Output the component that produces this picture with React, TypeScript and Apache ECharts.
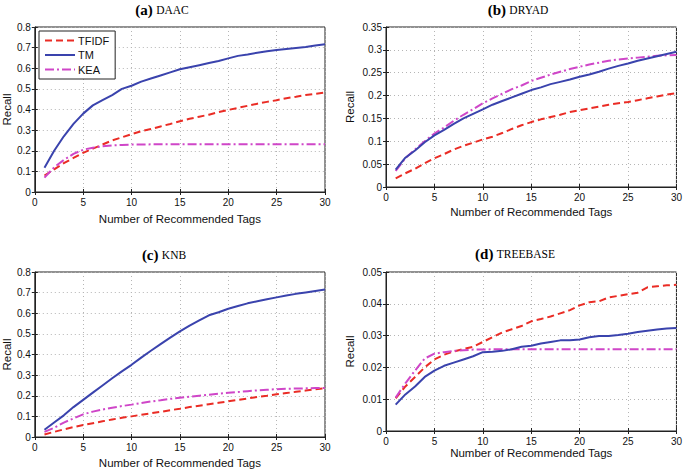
import React, { useEffect, useRef } from "react";
import * as echarts from "echarts";

const tags = [1, 2, 3, 4, 5, 6, 7, 8, 9, 10, 11, 12, 13, 14, 15, 16, 17, 18, 19, 20, 21, 22, 23, 24, 25, 26, 27, 28, 29, 30];
const seriesNames = ["TFIDF", "TM", "KEA"];
const panelTitles = [
  { tag: "(a)", name: "DAAC" },
  { tag: "(b)", name: "DRYAD" },
  { tag: "(c)", name: "KNB" },
  { tag: "(d)", name: "TREEBASE" },
];

// (a) DAAC
const tfidfDAAC = [0.08, 0.11, 0.14, 0.165, 0.19, 0.21, 0.23, 0.25, 0.265, 0.28, 0.295, 0.305, 0.318, 0.33, 0.343, 0.355, 0.365, 0.375, 0.387, 0.398, 0.408, 0.418, 0.428, 0.437, 0.445, 0.455, 0.462, 0.47, 0.476, 0.482];
const tmDAAC = [0.118, 0.2, 0.27, 0.33, 0.38, 0.42, 0.445, 0.47, 0.5, 0.515, 0.535, 0.55, 0.565, 0.58, 0.595, 0.605, 0.615, 0.625, 0.635, 0.648, 0.66, 0.667, 0.675, 0.682, 0.688, 0.693, 0.698, 0.703, 0.71, 0.716];
const keaDAAC = [0.07, 0.12, 0.155, 0.185, 0.205, 0.215, 0.222, 0.226, 0.228, 0.23, 0.23, 0.231, 0.231, 0.231, 0.232, 0.232, 0.232, 0.232, 0.232, 0.232, 0.232, 0.232, 0.232, 0.232, 0.232, 0.232, 0.232, 0.232, 0.232, 0.232];

// (b) DRYAD
const tfidfDRYAD = [0.019, 0.03, 0.04, 0.052, 0.063, 0.072, 0.082, 0.09, 0.097, 0.104, 0.11, 0.118, 0.127, 0.135, 0.142, 0.148, 0.153, 0.158, 0.164, 0.168, 0.172, 0.176, 0.18, 0.183, 0.186, 0.19, 0.194, 0.198, 0.202, 0.205];
const tmDRYAD = [0.038, 0.064, 0.08, 0.098, 0.113, 0.125, 0.138, 0.15, 0.16, 0.17, 0.18, 0.188, 0.196, 0.204, 0.212, 0.218, 0.225, 0.23, 0.235, 0.241, 0.246, 0.252, 0.259, 0.265, 0.27, 0.276, 0.281, 0.286, 0.291, 0.296];
const keaDRYAD = [0.035, 0.063, 0.082, 0.1, 0.117, 0.13, 0.145, 0.158, 0.17, 0.183, 0.194, 0.204, 0.214, 0.222, 0.232, 0.239, 0.246, 0.252, 0.258, 0.263, 0.268, 0.272, 0.276, 0.279, 0.281, 0.283, 0.285, 0.287, 0.288, 0.289];

// (c) KNB
const tfidfKNB = [0.012, 0.025, 0.037, 0.048, 0.058, 0.067, 0.076, 0.085, 0.093, 0.1, 0.108, 0.115, 0.122, 0.13, 0.137, 0.145, 0.152, 0.159, 0.166, 0.173, 0.18, 0.187, 0.194, 0.2, 0.207, 0.213, 0.219, 0.225, 0.231, 0.237];
const tmKNB = [0.035, 0.07, 0.105, 0.145, 0.18, 0.215, 0.25, 0.285, 0.318, 0.35, 0.385, 0.418, 0.45, 0.482, 0.512, 0.54, 0.565, 0.59, 0.605, 0.622, 0.635, 0.648, 0.658, 0.668, 0.677, 0.686, 0.694, 0.701, 0.708, 0.715];
const keaKNB = [0.025, 0.045, 0.07, 0.09, 0.11, 0.123, 0.133, 0.142, 0.15, 0.157, 0.165, 0.172, 0.178, 0.185, 0.19, 0.195, 0.2, 0.205, 0.21, 0.214, 0.218, 0.222, 0.226, 0.229, 0.232, 0.234, 0.235, 0.236, 0.237, 0.238];

// (d) TREEBASE
const tfidfTREEBASE = [0.0103, 0.014, 0.017, 0.02, 0.0225, 0.024, 0.025, 0.0258, 0.0265, 0.028, 0.0295, 0.031, 0.032, 0.033, 0.0345, 0.0352, 0.036, 0.037, 0.038, 0.0395, 0.0405, 0.0408, 0.042, 0.0425, 0.043, 0.0435, 0.0452, 0.0455, 0.0458, 0.046];
const tmTREEBASE = [0.0083, 0.0115, 0.014, 0.017, 0.019, 0.0205, 0.0215, 0.0225, 0.0235, 0.0248, 0.0249, 0.0252, 0.0257, 0.0265, 0.0268, 0.0275, 0.028, 0.0285, 0.0285, 0.0288, 0.0295, 0.0299, 0.0299, 0.0302, 0.0306, 0.0311, 0.0315, 0.0319, 0.0322, 0.0324];
const keaTREEBASE = [0.0105, 0.015, 0.019, 0.0228, 0.0243, 0.0248, 0.0252, 0.0254, 0.0256, 0.0256, 0.0257, 0.0257, 0.0257, 0.0257, 0.0257, 0.0257, 0.0257, 0.0257, 0.0257, 0.0257, 0.0257, 0.0257, 0.0257, 0.0257, 0.0257, 0.0257, 0.0257, 0.0257, 0.0257, 0.0257];

const yMaxes = [0.8, 0.35, 0.8, 0.05];
const yIntervals = [0.1, 0.05, 0.1, 0.01];
const panelData = [
  [tfidfDAAC, tmDAAC, keaDAAC],
  [tfidfDRYAD, tmDRYAD, keaDRYAD],
  [tfidfKNB, tmKNB, keaKNB],
  [tfidfTREEBASE, tmTREEBASE, keaTREEBASE],
];

const colors = ["#ea2c25", "#3a43ad", "#cf46c8"];
const dashes: any[] = [[7, 4], "solid", [9, 3, 2, 3]];

const layout = [
  { left: 32, top: 27, width: 293, height: 165, xGap: 21, yGap: 20, tx: 162, ty: 10 },
  { left: 386, top: 27, width: 292, height: 160, xGap: 19, yGap: 30, tx: 518, ty: 10 },
  { left: 32, top: 272, width: 293, height: 165, xGap: 20, yGap: 20, tx: 164, ty: 255 },
  { left: 386, top: 272, width: 292, height: 159, xGap: 15, yGap: 30, tx: 515, ty: 254 },
];

const sans = "Liberation Sans, Arial, sans-serif";
const serif = "Liberation Serif, Times New Roman, serif";

export default function App() {
  const ref = useRef<HTMLDivElement>(null);
  useEffect(() => {
    if (!ref.current) return;
    const chart = echarts.init(ref.current, undefined, { renderer: "svg" });
    const grid = layout.map((l) => ({
      left: l.left, top: l.top, width: l.width, height: l.height,
      show: true, borderColor: "#222", borderWidth: 1, backgroundColor: "#fff",
    }));
    const xAxis: any[] = [];
    const yAxis: any[] = [];
    layout.forEach((l, i) => {
      xAxis.push({
        type: "value", gridIndex: i, min: 0, max: 30, interval: 5,
        name: "Number of Recommended Tags", nameLocation: "middle", nameGap: l.xGap,
        nameTextStyle: { fontFamily: sans, fontSize: 11.5, color: "#111" },
        axisLine: { show: true, lineStyle: { color: "#222", width: 1 } },
        axisTick: { show: true, inside: true, length: 3, lineStyle: { color: "#222" } },
        axisLabel: { fontFamily: sans, fontSize: 10, color: "#111", margin: 5 },
        splitLine: { show: true, lineStyle: { color: "#b5b5b5", type: [1, 3], width: 1 } },
      });
      yAxis.push({
        type: "value", gridIndex: i, min: 0, max: yMaxes[i], interval: yIntervals[i],
        name: "Recall", nameLocation: "middle", nameGap: l.yGap,
        nameTextStyle: { fontFamily: sans, fontSize: 11.5, color: "#111" },
        axisLine: { show: true, lineStyle: { color: "#222", width: 1 } },
        axisTick: { show: true, inside: true, length: 3, lineStyle: { color: "#222" } },
        axisLabel: { fontFamily: sans, fontSize: 10, color: "#111", margin: 4 },
        splitLine: { show: true, lineStyle: { color: "#b5b5b5", type: [1, 3], width: 1 } },
      });
    });
    layout.forEach((l, i) => {
      xAxis.push({
        type: "value", gridIndex: i, min: 0, max: 30, interval: 5, position: "top",
        axisLine: { show: false }, axisLabel: { show: false }, splitLine: { show: false },
        axisTick: { show: true, inside: true, length: 3, lineStyle: { color: "#222" } },
      });
      yAxis.push({
        type: "value", gridIndex: i, min: 0, max: yMaxes[i], interval: yIntervals[i], position: "right",
        axisLine: { show: false }, axisLabel: { show: false }, splitLine: { show: false },
        axisTick: { show: true, inside: true, length: 3, lineStyle: { color: "#222" } },
      });
    });
    const series: any[] = [];
    panelData.forEach((sets, i) => {
      sets.forEach((vals, k) => {
        series.push({
          type: "line", name: seriesNames[k], xAxisIndex: i, yAxisIndex: i,
          data: tags.map((t, j) => [t, vals[j]]),
          symbol: "none", showSymbol: false, smooth: false,
          lineStyle: { color: colors[k], width: 2, type: dashes[k] },
          itemStyle: { color: colors[k], opacity: 0 },
          z: 3 + (k === 1 ? 1 : 0),
        });
      });
    });
    const graphic = layout.map((l, i) => ({
      type: "text", x: l.tx, y: l.ty,
      style: {
        text: `{b|${panelTitles[i].tag}} {s|${panelTitles[i].name}}`,
        align: "center", verticalAlign: "middle",
        rich: {
          b: { fontFamily: serif, fontWeight: "bold", fontSize: 15, fill: "#000" },
          s: { fontFamily: serif, fontSize: 11.5, fill: "#000" },
        },
      },
    }));
    chart.setOption({
      animation: false,
      backgroundColor: "#fff",
      grid, xAxis, yAxis, series, graphic,
      legend: {
        data: seriesNames, orient: "vertical", left: 39, top: 31,
        itemWidth: 30, itemHeight: 10, itemGap: 3.5,
        padding: [4, 6, 4, 5],
        backgroundColor: "#fff", borderColor: "#222", borderWidth: 1,
        itemStyle: { opacity: 0 },
        textStyle: { fontFamily: sans, fontSize: 11, color: "#111", padding: [0, 0, 0, -2] },
        selectedMode: false,
      },
    });
    return () => chart.dispose();
  }, []);
  return <div ref={ref} style={{ position: "absolute", left: 0, top: 0, width: 685, height: 470 }} />;
}
